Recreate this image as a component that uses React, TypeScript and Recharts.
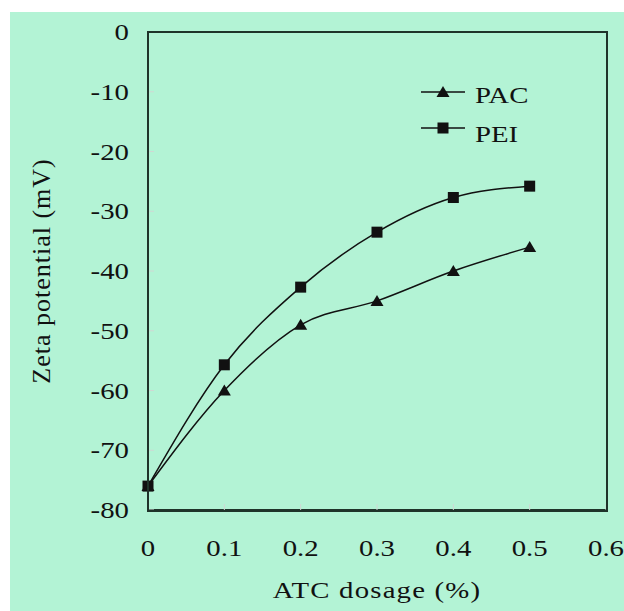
import React from 'react';
import { LineChart, Line, XAxis, YAxis, Label } from 'recharts';

const dosage = [0, 0.1, 0.2, 0.3, 0.4, 0.5];
const pacValues = [-76, -60, -49, -45, -40, -36];
const peiValues = [-76, -55.7, -42.7, -33.5, -27.7, -25.8];
const xTicks = [0, 0.1, 0.2, 0.3, 0.4, 0.5, 0.6];
const xTickLabels = ['0', '0.1', '0.2', '0.3', '0.4', '0.5', '0.6'];
const yTicks = [-80, -70, -60, -50, -40, -30, -20, -10, 0];

const data = dosage.map((d, i) => ({ x: d, pac: pacValues[i], pei: peiValues[i] }));

const FONT = '"Liberation Serif", "DejaVu Serif", serif';
const INK = '#111';
const FRAME = '#1f332a';
const GREEN = '#b3f3d5';
const STRETCH = 1.2; // the original text is a bit wide

const Triangle = (props: any) => {
  const { cx, cy } = props;
  if (cx == null || cy == null) return null;
  return <path d={`M${cx},${cy - 6} L${cx + 6.5},${cy + 5} L${cx - 6.5},${cy + 5} Z`} fill={INK} />;
};

const Square = (props: any) => {
  const { cx, cy } = props;
  if (cx == null || cy == null) return null;
  return <rect x={cx - 5.5} y={cy - 5.5} width={11} height={11} fill={INK} />;
};

const WideText = ({ x, y, anchor, size = 24, spacing = 0, children }: any) => (
  <g transform={`translate(${x},${y}) scale(${STRETCH},1)`}>
    <text x={0} y={0} textAnchor={anchor} fontFamily={FONT} fontSize={size} letterSpacing={spacing} fill={INK}>
      {children}
    </text>
  </g>
);

const XTick = (props: any) => {
  const { x, y, payload } = props;
  const i = xTicks.indexOf(payload.value);
  return <WideText x={x} y={y + 16} anchor="middle">{i >= 0 ? xTickLabels[i] : payload.value}</WideText>;
};

const YTick = (props: any) => {
  const { x, y, payload } = props;
  return <WideText x={x} y={y + 8} anchor="end">{payload.value}</WideText>;
};

const XTitle = (props: any) => {
  const vb = props.viewBox || {};
  const cx = (vb.x ?? 0) + (vb.width ?? 0) / 2;
  return <WideText x={cx} y={598} anchor="middle" size={24} spacing={1}>ATC dosage (%)</WideText>;
};

const YTitle = (props: any) => {
  const vb = props.viewBox || {};
  const cy = (vb.y ?? 0) + (vb.height ?? 0) / 2;
  return (
    <text
      x={0}
      y={0}
      transform={`translate(50,${cy}) rotate(-90)`}
      textAnchor="middle"
      fontFamily={FONT}
      fontSize={26}
      letterSpacing={1}
      fill={INK}
    >
      Zeta potential (mV)
    </text>
  );
};

const LegendBox = () => (
  <svg width={130} height={80} style={{ position: 'absolute', left: 410, top: 72 }}>
    <line x1={11} x2={55} y1={20} y2={20} stroke={INK} strokeWidth={1.5} />
    <Triangle cx={33} cy={20} />
    <WideText x={65} y={31} anchor="start">PAC</WideText>
    <line x1={11} x2={55} y1={56} y2={56} stroke={INK} strokeWidth={1.5} />
    <Square cx={33} cy={56} />
    <WideText x={65} y={70} anchor="start">PEI</WideText>
  </svg>
);

const App: React.FC = () => {
  return (
    <div style={{ position: 'absolute', left: 0, top: 0, width: 624, height: 611, background: '#fff' }}>
      <div style={{ position: 'absolute', left: 10, top: 12, width: 614, height: 599, background: GREEN }} />
      <div style={{ position: 'absolute', left: 0, top: 0 }}>
        <LineChart width={624} height={611} data={data} margin={{ top: 32, right: 18, bottom: 41, left: 88 }}>
          <XAxis
            dataKey="x"
            type="number"
            domain={[0, 0.6]}
            ticks={xTicks}
            height={60}
            axisLine={{ stroke: FRAME, strokeWidth: 2 }}
            tickLine={{ stroke: '#cfd8d3' }}
            tickSize={-6}
            tickMargin={36}
            tick={<XTick />}
          >
            <Label content={<XTitle />} position="insideBottom" />
          </XAxis>
          <YAxis
            type="number"
            domain={[-80, 0]}
            ticks={yTicks}
            width={60}
            axisLine={{ stroke: FRAME, strokeWidth: 2 }}
            tickLine={{ stroke: '#cfd8d3' }}
            tickSize={-6}
            tickMargin={25}
            tick={<YTick />}
            interval={0}
          >
            <Label content={<YTitle />} position="insideLeft" />
          </YAxis>
          <Line type="monotone" dataKey="pac" name="PAC" stroke={INK} strokeWidth={1.5} dot={<Triangle />} activeDot={false} isAnimationActive={false} />
          <Line type="monotone" dataKey="pei" name="PEI" stroke={INK} strokeWidth={1.5} dot={<Square />} activeDot={false} isAnimationActive={false} />
        </LineChart>
      </div>
      <div style={{ position: 'absolute', left: 147, top: 31, width: 457, height: 477, border: `2px solid ${FRAME}`, pointerEvents: 'none' }} />
      <LegendBox />
    </div>
  );
};

export default App;
